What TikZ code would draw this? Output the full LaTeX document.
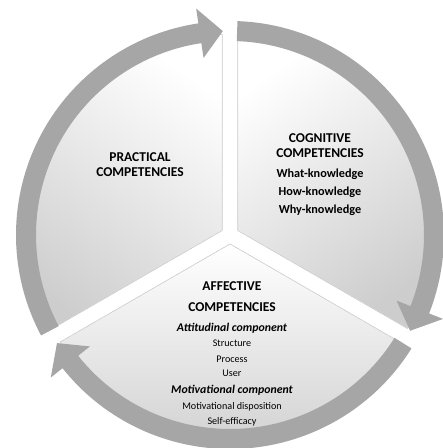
\documentclass[tikz,border=0pt]{standalone}
\usepackage{fontspec}
\setmainfont{Carlito}
\usetikzlibrary{matrix}

\definecolor{ringgray}{RGB}{166,166,166}
\definecolor{sectgray}{RGB}{205,205,205}

\tikzset{
    ringarrow/.style={fill=ringgray},
    sector/.style={top color=white, bottom color=sectgray, draw=gray!30, line width=0.5pt},
    txt/.style={anchor=center, inner sep=0pt, text height=7pt, text depth=2pt},
    capt/.style={font=\bfseries\fontsize{9.6}{11}\selectfont},
    know/.style={font=\bfseries\fontsize{8.7}{10}\selectfont},
    comp/.style={font=\bfseries\itshape\fontsize{8.4}{10}\selectfont},
    small/.style={font=\fontsize{7.2}{8}\selectfont}
}

% ring arrow: tail angle, tip angle (clockwise)
\newcommand{\ringarrow}[3]{
    \fill[ringarrow] (#2:214) arc[start angle=#2, end angle=#3+6.5, radius=214]
        -- (#3+6.5:229) -- (#3:204) coordinate (#1) -- (#3+6.5:179) -- (#3+6.5:194)
        arc[start angle=#3+6.5, end angle=#2, radius=194] -- cycle;
}

\begin{document}
\begin{tikzpicture}[x=0.025cm, y=0.025cm]

    \useasboundingbox (-230,-213) rectangle (212,235);

    % the three sectors, pulled apart a little
    \fill[sector, shading angle=-35] (150:9) -- ++(210:196) arc[start angle=210, end angle=90, radius=196] -- cycle;
    \fill[sector, shading angle=35] (30:9) -- ++(90:196) arc[start angle=90, end angle=-30, radius=196] -- cycle;
    \fill[sector] (270:9) -- ++(330:196) arc[start angle=330, end angle=210, radius=196] -- cycle;

    % ring of arrows
    \ringarrow{tipa}{208}{92}
    \ringarrow{tipb}{88}{-28}
    \ringarrow{tipc}{-32}{-148}

    \matrix (prac) [matrix of nodes, anchor=north, inner sep=0pt,
        nodes={txt, capt}] at (-90,83.8) {
PRACTICAL \\[1.7pt]
COMPETENCIES \\
    };

    \matrix (cogn) [matrix of nodes, anchor=north, inner sep=0pt,
        nodes={txt, capt}] at (90,102.8) {
COGNITIVE \\[1.7pt]
COMPETENCIES \\[5.2pt]
|[know]| What-knowledge \\[3.8pt]
|[know]| How-knowledge \\[3.8pt]
|[know]| Why-knowledge \\
    };

    \matrix (affe) [matrix of nodes, anchor=north, inner sep=0pt,
        nodes={txt, small}] at (2,-45.2) {
|[capt]| AFFECTIVE \\[5.9pt]
|[capt]| COMPETENCIES \\[5.2pt]
|[comp]| Attitudinal component \\[1.7pt]
Structure \\[2.4pt]
Process \\[1.0pt]
User \\[3.1pt]
|[comp]| Motivational component \\[2.4pt]
Motivational disposition \\[1.7pt]
Self-efficacy \\
    };

\end{tikzpicture}
\end{document}
